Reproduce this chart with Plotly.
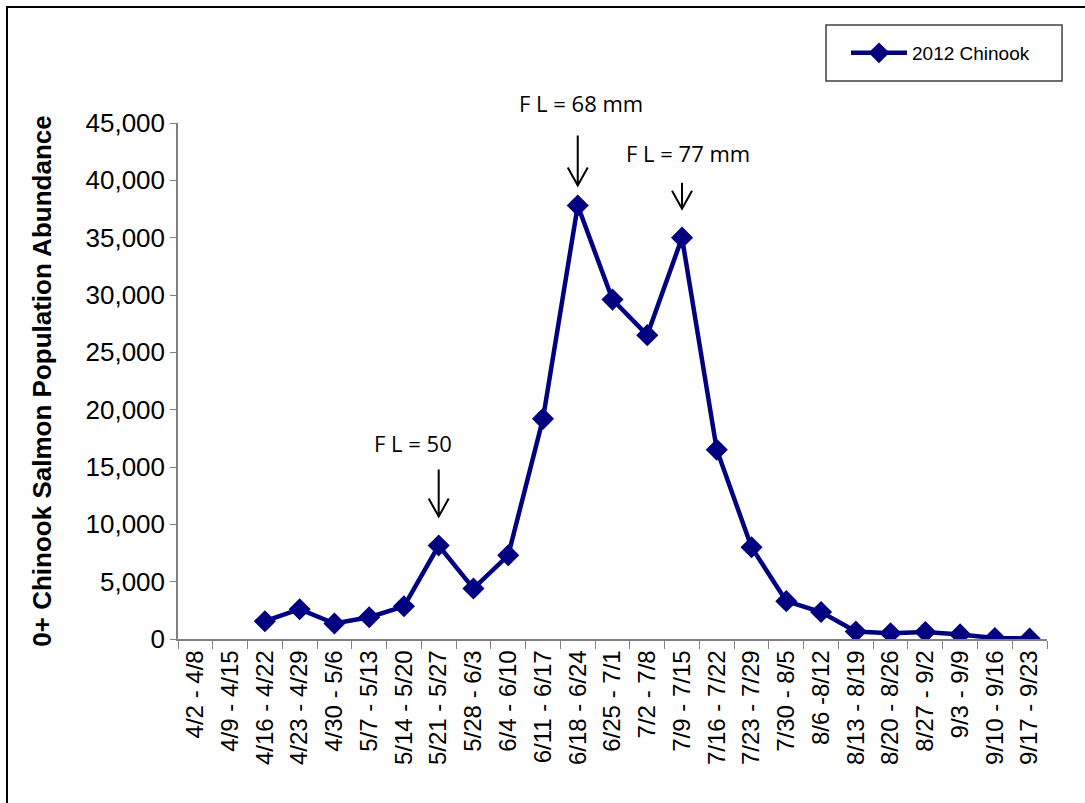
import plotly.graph_objects as go

weeks = [
    "4/2 - 4/8", "4/9 - 4/15", "4/16 - 4/22", "4/23 - 4/29", "4/30 - 5/6",
    "5/7 - 5/13", "5/14 - 5/20", "5/21 - 5/27", "5/28 - 6/3", "6/4 - 6/10",
    "6/11 - 6/17", "6/18 - 6/24", "6/25 - 7/1", "7/2 - 7/8", "7/9 - 7/15",
    "7/16 - 7/22", "7/23 - 7/29", "7/30 - 8/5", "8/6 -8/12", "8/13 - 8/19",
    "8/20 - 8/26", "8/27 - 9/2", "9/3 - 9/9", "9/10 - 9/16", "9/17 - 9/23",
]
abundance_2012 = [
    None, None, 1550, 2600, 1350,
    1900, 2850, 8150, 4400, 7300,
    19200, 37800, 29600, 26500, 35000,
    16500, 8000, 3300, 2350, 650,
    500, 600, 400, 80, 50,
]

# fork-length notes: (week, text)
fl_notes = [("5/21 - 5/27", "F L = 50"), ("6/18 - 6/24", "F L = 68 mm"), ("7/9 - 7/15", "F L = 77 mm")]
# pixel geometry of each note relative to its point: (arrow top, arrow tip, text dx, text dy)
note_geom = [(76, 29, -26, 103), (70, 20, 3, 103), (55, 29, 6, 85)]

navy = "#000080"

fig = go.Figure()
fig.add_trace(go.Scatter(
    x=weeks, y=abundance_2012, mode="lines+markers", name="2012 Chinook",
    line=dict(color=navy, width=4.5),
    marker=dict(symbol="diamond", size=17, color=navy),
    connectgaps=False,
))

shapes = []
annotations = []
for (wk, txt), (top, tip, tdx, tdy) in zip(fl_notes, note_geom):
    val = abundance_2012[weeks.index(wk)]
    xi = weeks.index(wk)
    path = (f"M 0 {top} L 0 {tip} M -10 {tip + 18} L 0 {tip} L 10 {tip + 18}")
    shapes.append(dict(
        type="path", xref="x", yref="y", xsizemode="pixel", ysizemode="pixel",
        xanchor=xi, yanchor=val, path=path,
        line=dict(color="black", width=2),
    ))
    annotations.append(dict(
        x=wk, y=val, xref="x", yref="y", text=txt, showarrow=False,
        xshift=tdx, yshift=tdy,
        font=dict(family="Open Sans, Lato, sans-serif", size=22, color="black"),
    ))

# outer frame
shapes.append(dict(type="rect", xref="paper", yref="paper",
                   x0=-0.1968, x1=1.2, y0=-0.5, y1=1.2248,
                   line=dict(color="black", width=2), layer="above"))
# legend box
shapes.append(dict(type="rect", xref="paper", yref="paper",
                   x0=0.7457, x1=1.0173, y0=1.0814, y1=1.1899,
                   line=dict(color="#404040", width=1.5), fillcolor="rgba(0,0,0,0)"))

fig.update_layout(
    width=1085, height=803,
    margin=dict(l=178, r=38, t=123, b=164),
    plot_bgcolor="white", paper_bgcolor="white",
    font=dict(family="Liberation Sans, Arial, sans-serif", color="black"),
    showlegend=True,
    legend=dict(
        x=0.7687, xanchor="left", y=1.1357, yanchor="middle",
        borderwidth=0, bgcolor="rgba(0,0,0,0)",
        font=dict(size=19, family="Liberation Sans, Arial, sans-serif"),
        itemwidth=56,
    ),
    shapes=shapes,
    annotations=annotations,
)
fig.update_xaxes(
    type="category", range=[-0.5, len(weeks) - 0.5],
    tickangle=-90, tickfont=dict(size=24),
    showline=True, linecolor="#808080", linewidth=1.5,
    ticks="outside", tickson="boundaries", ticklen=8, tickcolor="#808080",
    showgrid=False, zeroline=False,
)
fig.update_yaxes(
    range=[0, 45000], dtick=5000, tickformat=",",
    tickfont=dict(size=26),
    title=dict(text="<b>0+ Chinook Salmon Population Abundance</b>",
               font=dict(size=26), standoff=26),
    showline=True, linecolor="#808080", linewidth=1.5,
    ticks="outside", ticklen=6, tickcolor="#808080",
    showgrid=False, zeroline=False,
)

fig.write_html("out.html")
